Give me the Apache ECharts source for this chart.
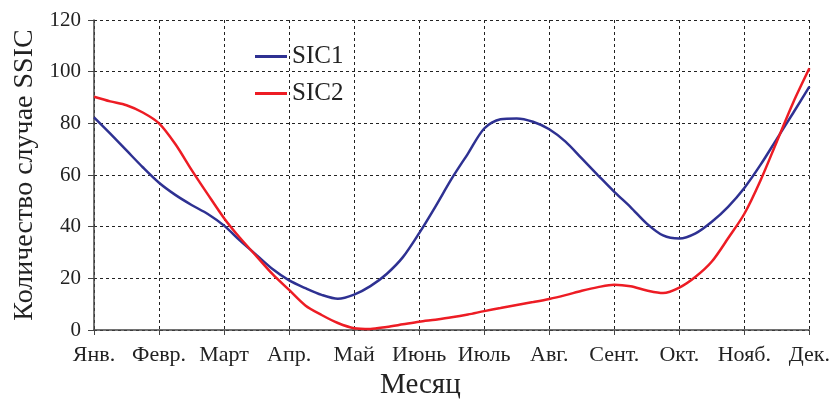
<!DOCTYPE html>
<html>
<head>
<meta charset="utf-8">
<script src="https://cdn.jsdelivr.net/npm/echarts@6/dist/echarts.min.js"></script>
<style>html,body{margin:0;padding:0;background:#fff}#c{width:833px;height:400px}</style>
</head>
<body>
<div id="c"></div>
<script>
var months = ['Янв.','Февр.','Март','Апр.','Май','Июнь','Июль','Авг.','Сент.','Окт.','Нояб.','Дек.'];
var yTicks = [0, 20, 40, 60, 80, 100, 120];
// positions in months (0 = Янв., 11 = Дек.), quarter-month steps
var monthPos = [0, 0.25, 0.5, 0.75, 1, 1.25, 1.5, 1.75, 2, 2.25, 2.5, 2.75, 3, 3.25, 3.5, 3.75,
                4, 4.25, 4.5, 4.75, 5, 5.25, 5.5, 5.75, 6, 6.25, 6.5, 6.75, 7, 7.25, 7.5, 7.75,
                8, 8.25, 8.5, 8.75, 9, 9.25, 9.5, 9.75, 10, 10.25, 10.5, 10.75, 11];
var sic1Vals = [82.3, 76, 69.5, 63, 57, 52.3, 48.4, 44.9, 40.4, 34.5, 29, 23.5, 19.2, 16.2, 13.6, 12.1,
                13.7, 17, 21.7, 28.2, 37.5, 47.8, 58.6, 68.3, 78, 81.6, 81.9, 80.6, 77.7, 72.9, 66.4, 59.9,
                53.5, 47.6, 41.2, 36.6, 35.4, 37.4, 41.9, 47.7, 55, 64, 74, 84, 94.2];
var sic2Vals = [90.3, 88.5, 87, 84.2, 80, 72, 62, 52.5, 43.3, 35.5, 28.5, 21.5, 15.5, 9.5, 5.8, 2.7,
                0.7, 0.4, 1.2, 2.2, 3.2, 4, 4.9, 6, 7.3, 8.5, 9.7, 10.8, 12, 13.5, 15.2, 16.6,
                17.5, 16.9, 15.3, 14.3, 16.4, 20.6, 26.5, 35.5, 45, 58, 73, 88, 101.3];

function pairs(xs, ys){ return xs.map(function(x,i){ return [x, ys[i]]; }); }

var font = '"Liberation Serif","Times New Roman",serif';
var chart = echarts.init(document.getElementById('c'), null, {renderer:'canvas'});
chart.setOption({
  animation: false,
  backgroundColor: '#fff',
  textStyle: {fontFamily: font},
  grid: {left: 94, right: 21, top: 20, bottom: 70, containLabel: false},
  legend: {
    orient: 'vertical', left: 250, top: 39, itemGap: 12,
    itemWidth: 32, itemHeight: 3, icon: 'rect',
    textStyle: {fontFamily: font, fontSize: 25, color: '#222'},
    data: ['SIC1', 'SIC2']
  },
  xAxis: {
    type: 'value', min: 0, max: 11, interval: 1,
    axisLine: {show: true, lineStyle: {color: '#444', width: 1.5}},
    axisTick: {show: true, length: 5, lineStyle: {color: '#444'}},
    axisLabel: {
      fontFamily: font, fontSize: 22, color: '#222', margin: 14,
      formatter: function(v){ return months[Math.round(v)] || ''; }
    },
    splitLine: {show: true, lineStyle: {color: '#222', type: [3, 3], width: 1}}
  },
  yAxis: {
    type: 'value', min: yTicks[0], max: yTicks[yTicks.length-1], interval: 20,
    name: 'Количество случае SSIC', nameLocation: 'middle', nameGap: 55,
    nameTextStyle: {fontFamily: font, fontSize: 28, color: '#222'},
    axisLine: {show: true, lineStyle: {color: '#444', width: 1.5}},
    axisTick: {show: true, length: 6, lineStyle: {color: '#444'}},
    axisLabel: {fontFamily: font, fontSize: 21, color: '#222', margin: 13},
    splitLine: {show: true, lineStyle: {color: '#222', type: [3, 3], width: 1}}
  },
  graphic: [{
    type: 'text', left: 380, top: 371,
    style: {text: 'Месяц', font: '29px "Liberation Serif", serif', fill: '#222'}
  }],
  series: [
    {name: 'SIC1', type: 'line', smooth: 0.3, showSymbol: false, symbol: 'none',
     data: pairs(monthPos, sic1Vals), lineStyle: {color: '#2e3192', width: 2.5}, itemStyle: {color: '#2e3192'}},
    {name: 'SIC2', type: 'line', smooth: 0.3, showSymbol: false, symbol: 'none',
     data: pairs(monthPos, sic2Vals), lineStyle: {color: '#ed1c24', width: 2.5}, itemStyle: {color: '#ed1c24'}}
  ]
});
</script>
</body>
</html>
